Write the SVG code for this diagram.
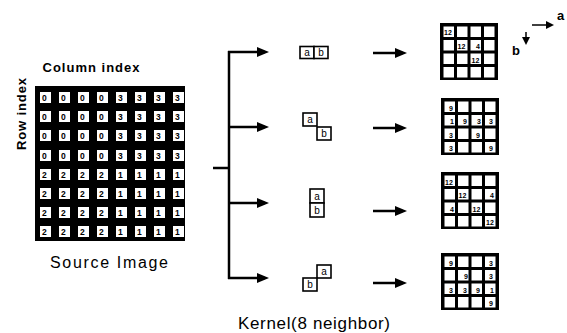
<svg xmlns="http://www.w3.org/2000/svg" xmlns:xlink="http://www.w3.org/1999/xlink" width="567" height="333" viewBox="0 0 567 333">
<style>
  text { font-family: "Liberation Sans", Arial, sans-serif; fill: #000; }
  .lbl { font-weight: bold; font-size: 13px; }
  .cap { font-size: 16px; }
  .sd { font-size: 8.5px; font-weight: bold; }
  .od { font-size: 7px; font-weight: bold; }
  .kl { font-size: 10px; text-anchor: middle; }
  .ws { fill: #fff; }
  .kb { fill: #fff; stroke: #000; stroke-width: 1.6; }
  .conn { stroke: #000; stroke-width: 2.5; fill: none; }
  .thin { stroke: #000; stroke-width: 1.5; fill: none; }
</style>
<defs>
  <marker id="ah" markerUnits="userSpaceOnUse" markerWidth="12" markerHeight="10" refX="8" refY="5" orient="auto" viewBox="0 0 12 10">
    <path d="M0,0 L12,5 L0,10 z" fill="#000"/>
  </marker>
  <marker id="ahs" markerUnits="userSpaceOnUse" markerWidth="8" markerHeight="8" refX="5" refY="4" orient="auto" viewBox="0 0 8 8">
    <path d="M0,0 L8,4 L0,8 z" fill="#000"/>
  </marker>
  <g id="g4">
    <rect x="0" y="0" width="58" height="57" fill="#000"/>
    <rect class="ws" x="3.5" y="3.5" width="10.5" height="10.5"/>
    <rect class="ws" x="17" y="3.5" width="10.5" height="10.5"/>
    <rect class="ws" x="30.5" y="3.5" width="10.5" height="10.5"/>
    <rect class="ws" x="44" y="3.5" width="10.5" height="10.5"/>
    <rect class="ws" x="3.5" y="17" width="10.5" height="10.5"/>
    <rect class="ws" x="17" y="17" width="10.5" height="10.5"/>
    <rect class="ws" x="30.5" y="17" width="10.5" height="10.5"/>
    <rect class="ws" x="44" y="17" width="10.5" height="10.5"/>
    <rect class="ws" x="3.5" y="30.5" width="10.5" height="10.5"/>
    <rect class="ws" x="17" y="30.5" width="10.5" height="10.5"/>
    <rect class="ws" x="30.5" y="30.5" width="10.5" height="10.5"/>
    <rect class="ws" x="44" y="30.5" width="10.5" height="10.5"/>
    <rect class="ws" x="3.5" y="44" width="10.5" height="10.5"/>
    <rect class="ws" x="17" y="44" width="10.5" height="10.5"/>
    <rect class="ws" x="30.5" y="44" width="10.5" height="10.5"/>
    <rect class="ws" x="44" y="44" width="10.5" height="10.5"/>
  </g>
</defs>
<rect width="567" height="333" fill="#fff"/>

<g id="source-image">
  <rect x="35" y="86" width="150" height="155" fill="#000"/>
  <g class="ws">
    <rect x="40" y="92" width="11" height="11"/><rect x="59" y="92" width="11" height="11"/><rect x="78" y="92" width="11" height="11"/><rect x="97" y="92" width="11" height="11"/><rect x="116" y="92" width="11" height="11"/><rect x="135" y="92" width="11" height="11"/><rect x="154" y="92" width="11" height="11"/><rect x="173" y="92" width="11" height="11"/>
    <rect x="40" y="111" width="11" height="11"/><rect x="59" y="111" width="11" height="11"/><rect x="78" y="111" width="11" height="11"/><rect x="97" y="111" width="11" height="11"/><rect x="116" y="111" width="11" height="11"/><rect x="135" y="111" width="11" height="11"/><rect x="154" y="111" width="11" height="11"/><rect x="173" y="111" width="11" height="11"/>
    <rect x="40" y="130" width="11" height="11"/><rect x="59" y="130" width="11" height="11"/><rect x="78" y="130" width="11" height="11"/><rect x="97" y="130" width="11" height="11"/><rect x="116" y="130" width="11" height="11"/><rect x="135" y="130" width="11" height="11"/><rect x="154" y="130" width="11" height="11"/><rect x="173" y="130" width="11" height="11"/>
    <rect x="40" y="150" width="11" height="11"/><rect x="59" y="150" width="11" height="11"/><rect x="78" y="150" width="11" height="11"/><rect x="97" y="150" width="11" height="11"/><rect x="116" y="150" width="11" height="11"/><rect x="135" y="150" width="11" height="11"/><rect x="154" y="150" width="11" height="11"/><rect x="173" y="150" width="11" height="11"/>
    <rect x="40" y="169" width="11" height="11"/><rect x="59" y="169" width="11" height="11"/><rect x="78" y="169" width="11" height="11"/><rect x="97" y="169" width="11" height="11"/><rect x="116" y="169" width="11" height="11"/><rect x="135" y="169" width="11" height="11"/><rect x="154" y="169" width="11" height="11"/><rect x="173" y="169" width="11" height="11"/>
    <rect x="40" y="188" width="11" height="11"/><rect x="59" y="188" width="11" height="11"/><rect x="78" y="188" width="11" height="11"/><rect x="97" y="188" width="11" height="11"/><rect x="116" y="188" width="11" height="11"/><rect x="135" y="188" width="11" height="11"/><rect x="154" y="188" width="11" height="11"/><rect x="173" y="188" width="11" height="11"/>
    <rect x="40" y="207" width="11" height="11"/><rect x="59" y="207" width="11" height="11"/><rect x="78" y="207" width="11" height="11"/><rect x="97" y="207" width="11" height="11"/><rect x="116" y="207" width="11" height="11"/><rect x="135" y="207" width="11" height="11"/><rect x="154" y="207" width="11" height="11"/><rect x="173" y="207" width="11" height="11"/>
    <rect x="40" y="226" width="11" height="11"/><rect x="59" y="226" width="11" height="11"/><rect x="78" y="226" width="11" height="11"/><rect x="97" y="226" width="11" height="11"/><rect x="116" y="226" width="11" height="11"/><rect x="135" y="226" width="11" height="11"/><rect x="154" y="226" width="11" height="11"/><rect x="173" y="226" width="11" height="11"/>
  </g>
  <g class="sd">
    <text x="42" y="101">0</text><text x="61" y="101">0</text><text x="80" y="101">0</text><text x="99" y="101">0</text><text x="118" y="101">3</text><text x="137" y="101">3</text><text x="156" y="101">3</text><text x="175" y="101">3</text>
    <text x="42" y="120">0</text><text x="61" y="120">0</text><text x="80" y="120">0</text><text x="99" y="120">0</text><text x="118" y="120">3</text><text x="137" y="120">3</text><text x="156" y="120">3</text><text x="175" y="120">3</text>
    <text x="42" y="139">0</text><text x="61" y="139">0</text><text x="80" y="139">0</text><text x="99" y="139">0</text><text x="118" y="139">3</text><text x="137" y="139">3</text><text x="156" y="139">3</text><text x="175" y="139">3</text>
    <text x="42" y="159">0</text><text x="61" y="159">0</text><text x="80" y="159">0</text><text x="99" y="159">0</text><text x="118" y="159">3</text><text x="137" y="159">3</text><text x="156" y="159">3</text><text x="175" y="159">3</text>
    <text x="42" y="178">2</text><text x="61" y="178">2</text><text x="80" y="178">2</text><text x="99" y="178">2</text><text x="118" y="178">1</text><text x="137" y="178">1</text><text x="156" y="178">1</text><text x="175" y="178">1</text>
    <text x="42" y="197">2</text><text x="61" y="197">2</text><text x="80" y="197">2</text><text x="99" y="197">2</text><text x="118" y="197">1</text><text x="137" y="197">1</text><text x="156" y="197">1</text><text x="175" y="197">1</text>
    <text x="42" y="216">2</text><text x="61" y="216">2</text><text x="80" y="216">2</text><text x="99" y="216">2</text><text x="118" y="216">1</text><text x="137" y="216">1</text><text x="156" y="216">1</text><text x="175" y="216">1</text>
    <text x="42" y="235">2</text><text x="61" y="235">2</text><text x="80" y="235">2</text><text x="99" y="235">2</text><text x="118" y="235">1</text><text x="137" y="235">1</text><text x="156" y="235">1</text><text x="175" y="235">1</text>
  </g>
  <text class="lbl" x="91" y="72" text-anchor="middle" textLength="97" lengthAdjust="spacing">Column index</text>
  <text class="lbl" x="26" y="114" text-anchor="middle" transform="rotate(-90 26 114)" textLength="72" lengthAdjust="spacing">Row index</text>
  <text class="cap" x="109" y="268" text-anchor="middle" textLength="118" lengthAdjust="spacing">Source Image</text>
</g>

<g id="connectors">
  <line class="conn" x1="213" y1="168" x2="229" y2="168"/>
  <line class="conn" x1="229" y1="51" x2="229" y2="279"/>
  <line class="conn" x1="228" y1="52" x2="265" y2="52" marker-end="url(#ah)"/>
  <line class="conn" x1="228" y1="127" x2="265" y2="127" marker-end="url(#ah)"/>
  <line class="conn" x1="228" y1="203" x2="265" y2="203" marker-end="url(#ah)"/>
  <line class="conn" x1="228" y1="278" x2="265" y2="278" marker-end="url(#ah)"/>
  <line class="conn" x1="373" y1="53" x2="403" y2="53" marker-end="url(#ah)"/>
  <line class="conn" x1="373" y1="128" x2="403" y2="128" marker-end="url(#ah)"/>
  <line class="conn" x1="373" y1="211" x2="403" y2="211" marker-end="url(#ah)"/>
  <line class="conn" x1="373" y1="283" x2="403" y2="283" marker-end="url(#ah)"/>
</g>

<g id="kernel-horizontal">
  <rect class="kb" x="300" y="46.5" width="14" height="12"/>
  <rect class="kb" x="314" y="46.5" width="14" height="12"/>
  <text class="kl" x="307" y="56">a</text>
  <text class="kl" x="321" y="56">b</text>
</g>
<g id="kernel-diagonal">
  <rect class="kb" x="303" y="113" width="14" height="13"/>
  <rect class="kb" x="317" y="127" width="14" height="13"/>
  <text class="kl" x="310" y="123">a</text>
  <text class="kl" x="324" y="137">b</text>
</g>
<g id="kernel-vertical">
  <rect class="kb" x="310" y="189" width="14" height="14"/>
  <rect class="kb" x="310" y="203" width="14" height="14"/>
  <text class="kl" x="317" y="200">a</text>
  <text class="kl" x="317" y="214">b</text>
</g>
<g id="kernel-antidiagonal">
  <rect class="kb" x="317" y="265" width="14" height="13"/>
  <rect class="kb" x="303" y="278" width="14" height="13"/>
  <text class="kl" x="324" y="275">a</text>
  <text class="kl" x="310" y="288">b</text>
</g>
<text x="314" y="329" text-anchor="middle" font-size="17" textLength="152" lengthAdjust="spacing">Kernel(8 neighbor)</text>

<g id="glcm-horizontal">
  <use xlink:href="#g4" x="440" y="23"/>
  <g class="od">
    <text x="444" y="35">12</text>
    <text x="457.5" y="49">12</text>
    <text x="480" y="49" text-anchor="end">4</text>
    <text x="471.5" y="62.5">12</text>
  </g>
</g>
<g id="glcm-diagonal">
  <use xlink:href="#g4" x="441" y="98"/>
  <g class="od">
    <text x="449" y="110.5">9</text>
    <text x="450" y="124">1</text>
    <text x="463" y="124">9</text>
    <text x="477" y="124">3</text>
    <text x="489" y="124">3</text>
    <text x="449" y="137.5">3</text>
    <text x="476" y="137.5">9</text>
    <text x="449" y="151">3</text>
    <text x="489" y="151">9</text>
  </g>
</g>
<g id="glcm-vertical">
  <use xlink:href="#g4" x="441" y="172"/>
  <g class="od">
    <text x="445" y="184.5">12</text>
    <text x="458.5" y="198">12</text>
    <text x="494" y="198" text-anchor="end">4</text>
    <text x="450" y="211.5">4</text>
    <text x="472.5" y="211.5">12</text>
    <text x="486" y="225">12</text>
  </g>
</g>
<g id="glcm-antidiagonal">
  <use xlink:href="#g4" x="441" y="253"/>
  <g class="od">
    <text x="449" y="265.5">9</text>
    <text x="489" y="265.5">3</text>
    <text x="464" y="279">9</text>
    <text x="489" y="279">3</text>
    <text x="449" y="292.5">3</text>
    <text x="463" y="292.5">3</text>
    <text x="476" y="292.5">9</text>
    <text x="490" y="292.5">1</text>
    <text x="489" y="306">9</text>
  </g>
</g>

<g id="axes">
  <line class="thin" x1="532" y1="25" x2="551" y2="25" marker-end="url(#ahs)"/>
  <text class="lbl" x="557" y="20">a</text>
  <line class="thin" x1="526" y1="32" x2="526" y2="42" marker-end="url(#ahs)"/>
  <text class="lbl" x="512" y="55">b</text>
</g>
</svg>
